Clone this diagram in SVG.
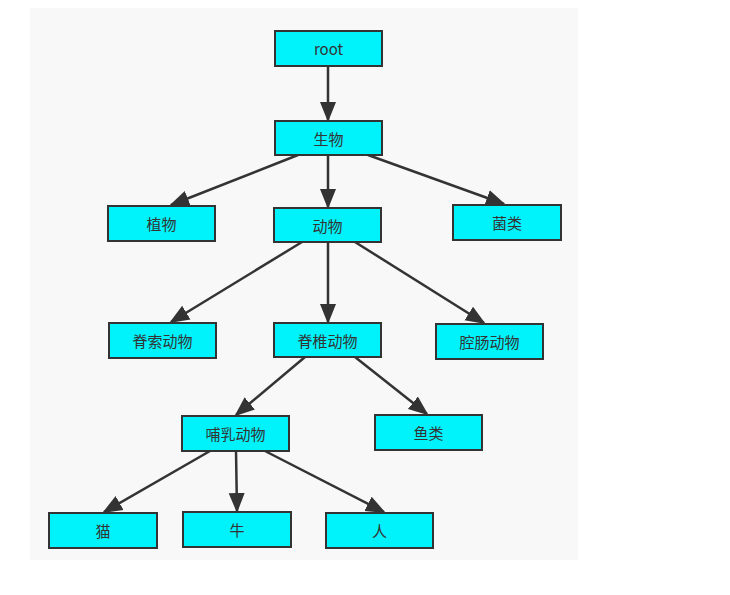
<svg xmlns="http://www.w3.org/2000/svg" width="730" height="595" viewBox="0 0 730 595">
<style>
.n rect{fill:#00f2fb;stroke:#333;stroke-width:2}
.n text{font-family:"Noto Sans CJK SC","Liberation Sans",sans-serif;font-size:15px;fill:#333;text-anchor:middle;dominant-baseline:central}
#edges line{stroke:#333;stroke-width:2.5;marker-end:url(#a)}
</style>
<defs><marker id="a" viewBox="0 0 10 10" refX="9" refY="5" markerWidth="8" markerHeight="8" markerUnits="strokeWidth" orient="auto"><path d="M0,1 L10,5 L0,9 z" fill="#333"/></marker></defs>
<rect width="730" height="595" fill="#fff"/>
<rect x="30" y="8" width="548" height="552" fill="#f8f8f8"/>
<g id="edges">
<line x1="328" y1="66" x2="328" y2="120"/>
<line x1="298" y1="155" x2="171" y2="205"/>
<line x1="328" y1="155" x2="328" y2="207"/>
<line x1="368" y1="155" x2="504" y2="204"/>
<line x1="302" y1="242" x2="171" y2="322"/>
<line x1="328" y1="242" x2="328" y2="322"/>
<line x1="355" y1="242" x2="484" y2="323"/>
<line x1="305" y1="357" x2="236" y2="415"/>
<line x1="355" y1="357" x2="427" y2="414"/>
<line x1="210" y1="451" x2="104" y2="512"/>
<line x1="236" y1="451" x2="237" y2="511"/>
<line x1="265" y1="451" x2="384" y2="512"/>
</g>
<g id="root" class="n"><rect x="275" y="31" width="107" height="35"/><text x="328.5" y="48.5">root</text></g>
<g id="shengwu" class="n"><rect x="275" y="121" width="107" height="34"/><text x="328.5" y="138">生物</text></g>
<g id="zhiwu" class="n"><rect x="108" y="206" width="107" height="35"/><text x="161.5" y="223.5">植物</text></g>
<g id="dongwu" class="n"><rect x="274" y="208" width="107" height="34"/><text x="327.5" y="225">动物</text></g>
<g id="junlei" class="n"><rect x="453" y="205" width="108" height="35"/><text x="507" y="222.5">菌类</text></g>
<g id="jisuo" class="n"><rect x="109" y="323" width="107" height="35"/><text x="162.5" y="340.5">脊索动物</text></g>
<g id="jizhui" class="n"><rect x="274" y="323" width="107" height="34"/><text x="327.5" y="340">脊椎动物</text></g>
<g id="qiangchang" class="n"><rect x="436" y="324" width="107" height="35"/><text x="489.5" y="341.5">腔肠动物</text></g>
<g id="buru" class="n"><rect x="182" y="416" width="107" height="35"/><text x="235.5" y="433.5">哺乳动物</text></g>
<g id="yulei" class="n"><rect x="375" y="415" width="107" height="35"/><text x="428.5" y="432.5">鱼类</text></g>
<g id="mao" class="n"><rect x="49" y="513" width="108" height="35"/><text x="103" y="530.5">猫</text></g>
<g id="niu" class="n"><rect x="183" y="512" width="108" height="35"/><text x="237" y="529.5">牛</text></g>
<g id="ren" class="n"><rect x="326" y="513" width="107" height="35"/><text x="379.5" y="530.5">人</text></g>
</svg>
